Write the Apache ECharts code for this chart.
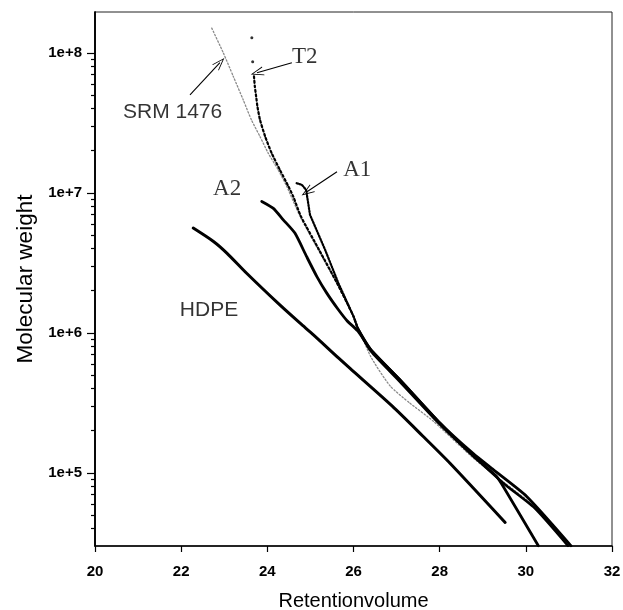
<!DOCTYPE html>
<html>
<head>
<meta charset="utf-8">
<script src="https://cdn.jsdelivr.net/npm/echarts@6/dist/echarts.min.js"></script>
<style>
html,body{margin:0;padding:0;background:#fff;}
#chart{width:623px;height:610px;}
</style>
</head>
<body>
<div id="chart"></div>
<script>
// ---- data: [retention volume, molecular weight] ----
const hdpe = [
  [22.28,5.60e6],[22.75,4.49e6],[23.06,3.71e6],[23.52,2.66e6],[24.29,1.58e6],
  [24.76,1.17e6],[25.07,9.66e5],[25.65,6.61e5],[25.92,5.56e5],[26.90,2.99e5],
  [27.60,1.84e5],[28.24,1.17e5],[29.52,4.42e4]
];
const a2 = [
  [23.87,8.67e6],[24.14,7.74e6],[24.37,6.41e6],[24.64,5.15e6],[24.91,3.51e6],
  [25.15,2.52e6],[25.38,1.92e6],[25.65,1.46e6],[25.85,1.22e6],[26.10,1.03e6],
  [26.40,7.59e5],[27.08,4.61e5],[28.01,2.26e5],[28.78,1.32e5],[29.30,9.55e4],
  [29.50,7.76e4],[30.29,3.01e4]
];
const a1 = [
  [24.68,1.17e7],[24.80,1.14e7],[24.90,1.05e7],[24.99,6.97e6],[25.34,3.92e6],
  [25.65,2.26e6],[26.00,1.31e6],[26.10,1.07e6],[26.40,7.59e5],[27.08,4.61e5],
  [28.01,2.26e5],[28.78,1.37e5],[29.25,1.05e5],[30.02,6.78e4],[31.05,3.01e4]
];
const t2 = [
  [23.64,1.28e8],[23.66,8.63e7],[23.69,6.78e7],[23.71,5.74e7],[23.74,4.88e7],
  [23.77,4.13e7],[23.83,3.32e7],[23.95,2.52e7],[24.10,1.92e7],[24.29,1.46e7],
  [24.49,1.11e7],[24.60,9.42e6],[24.78,6.78e6],[25.20,3.92e6],[25.62,2.26e6],
  [26.00,1.31e6],[26.10,1.07e6],[26.40,7.41e5],[27.08,4.47e5],[28.01,2.21e5],
  [28.78,1.32e5],[29.50,8.32e4],[30.20,5.62e4],[30.98,3.01e4]
];
const srm1476 = [
  [22.71,1.50e8],[22.98,9.95e7],[23.21,6.78e7],[23.44,4.61e7],[23.63,3.32e7],
  [23.83,2.52e7],[24.02,1.92e7],[24.25,1.46e7],[24.45,1.11e7],[24.76,6.78e6],
  [25.18,3.92e6],[25.61,2.26e6],[26.00,1.31e6],[26.40,6.76e5],[26.85,4.17e5],
  [27.30,3.16e5],[27.85,2.34e5],[28.80,1.26e5],[29.50,8.51e4],[30.20,5.75e4],
  [30.95,3.09e4]
];
// isolated top points of T2 (drawn as dots)
const t2IsolatedCount = 2;
// where the dotted upper traces turn into the solid merged trace
const dottedEnd = 26.10;

// axis ticks
const xMin = 20, xMax = 32, xInterval = 2;
const yMin = 3e4, yMax = 1.955e8;
const yMajorTicks = [1e5, 1e6, 1e7, 1e8];
const yMinorTicks = [
  4e4,5e4,6e4,7e4,8e4,9e4,
  2e5,3e5,4e5,5e5,6e5,7e5,8e5,9e5,
  2e6,3e6,4e6,5e6,6e6,7e6,8e6,9e6,
  2e7,3e7,4e7,5e7,6e7,7e7,8e7,9e7
];

// annotations: text, anchor point (left-middle), font family
const labelTexts = ['SRM 1476', 'T2', 'A1', 'A2', 'HDPE'];
const labelAnchors = [[20.65,3.76e7],[24.57,9.36e7],[25.76,1.46e7],[22.74,1.06e7],[21.97,1.45e6]];
const labelSerif = [false, true, true, true, false];
// arrows: [from, to]
const arrows = [
  [[22.205,5.01e7],[22.90,8.49e7]],
  [[24.57,8.49e7],[23.76,7.2e7]],
  [[25.617,1.413e7],[24.92,1.016e7]]
];

const SANS = '"Liberation Sans", Arial, sans-serif';
const SERIF = '"Liberation Serif", "Times New Roman", serif';

const upper = arr => arr.filter(p => p[0] <= dottedEnd);
const lower = arr => arr.filter(p => p[0] >= dottedEnd);

const chevron = 'path://M5,0 L10,13 L9,13 L5,2.5 L1,13 L0,13 Z';

function lineSeries(name, data, style, smooth) {
  return {
    name: name, type: 'line', data: data, showSymbol: false, symbol: 'none',
    smooth: smooth || false, animation: false, silent: true, z: style.z || 3,
    lineStyle: Object.assign({color: '#000', cap: 'round', join: 'round'}, style)
  };
}

const series = [
  lineSeries('SRM 1476', srm1476, {color: '#8a8a8a', width: 1.3, type: [1.5, 2], z: 2}, 0.2),
  lineSeries('HDPE', hdpe, {width: 3}, 0.25),
  lineSeries('A2', a2, {width: 2.8}, 0.2),
  lineSeries('A1 upper', upper(a1), {width: 2.2, type: [1.5, 1.5]}),
  lineSeries('A1', lower(a1), {width: 2.8}, 0.2),
  lineSeries('T2 upper', upper(t2).slice(t2IsolatedCount), {width: 2.2, type: [2, 2.5]}, 0.2),
  lineSeries('T2', lower(t2), {width: 2.6}, 0.2),
  {
    name: 'T2 dots', type: 'scatter', data: t2.slice(0, t2IsolatedCount),
    symbol: 'circle', symbolSize: 3, itemStyle: {color: '#000'}, silent: true, animation: false
  },
  {
    name: 'labels', type: 'scatter', animation: false, silent: true,
    data: labelTexts.map((t, i) => ({
      value: labelAnchors[i],
      label: {
        show: true, formatter: t, position: 'right', distance: 0,
        fontFamily: labelSerif[i] ? SERIF : SANS,
        fontSize: labelSerif[i] ? 23 : 21, color: '#000'
      }
    })),
    symbolSize: 0,
    markLine: {
      silent: true, animation: false,
      symbol: ['none', chevron], symbolSize: [9, 13],
      lineStyle: {color: '#000', width: 1.1, type: 'solid'},
      label: {show: false},
      data: arrows.map(a => [{coord: a[0]}, {coord: a[1]}])
    }
  }
];

const chart = echarts.init(document.getElementById('chart'), null, {renderer: 'canvas'});
chart.setOption({
  backgroundColor: '#fff',
  animation: false,
  grid: {left: 95, right: 11, top: 12, bottom: 64, show: true, borderColor: '#222', borderWidth: 1,
         containLabel: false, outerBoundsMode: 'none'},
  xAxis: {
    type: 'value', min: xMin, max: xMax, interval: xInterval,
    name: 'Retentionvolume', nameLocation: 'middle', nameGap: 45,
    nameTextStyle: {fontFamily: SANS, fontSize: 20, color: '#000'},
    axisLine: {lineStyle: {color: '#000', width: 1.5}},
    axisTick: {show: true, inside: false, length: 6, lineStyle: {color: '#000', width: 1.2}},
    axisLabel: {fontFamily: SANS, fontSize: 15, fontWeight: 'bold', color: '#000', margin: 18},
    splitLine: {show: false}
  },
  yAxis: [{
    type: 'log', logBase: 10, min: yMin, max: yMax, offset: 0,
    name: 'Molecular weight', nameLocation: 'middle', nameGap: 58,
    nameTextStyle: {fontFamily: SANS, fontSize: 22.5, color: '#000'},
    axisLine: {show: true, lineStyle: {color: '#000', width: 1.5}},
    axisTick: {show: true, inside: false, length: 8, customValues: yMajorTicks, lineStyle: {color: '#000', width: 1.2}},
    axisLabel: {
      customValues: yMajorTicks, fontFamily: SANS, fontSize: 15, fontWeight: 'bold', color: '#000', margin: 13,
      formatter: v => '1e+' + Math.round(Math.log10(v))
    },
    splitLine: {show: false}
  }, {
    type: 'log', logBase: 10, min: yMin, max: yMax, position: 'left', gridIndex: 0, offset: 0,
    axisLine: {show: true, lineStyle: {color: '#000', width: 1.5}},
    axisTick: {show: true, inside: false, length: 4, customValues: yMinorTicks, lineStyle: {color: '#000', width: 1.2}},
    axisLabel: {show: false},
    splitLine: {show: false}
  }],
  series: series
});
</script>
</body>
</html>
